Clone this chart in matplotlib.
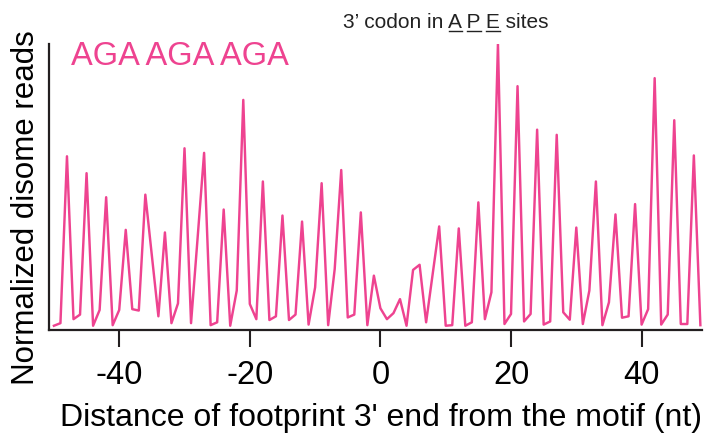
import numpy as np
import matplotlib
matplotlib.use('Agg')
import matplotlib.pyplot as plt
from matplotlib.lines import Line2D

plt.rcParams['font.family'] = ['Liberation Sans', 'DejaVu Sans']

# 数据：位置 (nt) 与归一化 disome reads
pos = np.arange(-50, 50)
reads = [
    0.015, 0.024, 0.607, 0.038, 0.054, 0.548, 0.015, 0.070, 0.464, 0.017,
    0.070, 0.350, 0.073, 0.068, 0.473, 0.260, 0.048, 0.341, 0.024, 0.093,
    0.635, 0.024, 0.320, 0.619, 0.017, 0.027, 0.421, 0.015, 0.138, 0.804,
    0.091, 0.038, 0.519, 0.035, 0.048, 0.400, 0.035, 0.054, 0.379, 0.019,
    0.149, 0.513, 0.017, 0.213, 0.559, 0.044, 0.054, 0.411, 0.017, 0.190,
    0.076, 0.038, 0.059, 0.108, 0.015, 0.210, 0.228, 0.027, 0.195, 0.362,
    0.015, 0.017, 0.355, 0.015, 0.027, 0.446, 0.038, 0.132, 1.000, 0.021,
    0.056, 0.852, 0.030, 0.056, 0.700, 0.019, 0.030, 0.682, 0.062, 0.036,
    0.358, 0.021, 0.138, 0.519, 0.017, 0.097, 0.404, 0.043, 0.048, 0.440,
    0.019, 0.073, 0.880, 0.019, 0.054, 0.733, 0.021, 0.021, 0.610, 0.017,
]
xticks = [-40, -20, 0, 20, 40]
motif_label = 'AGA AGA AGA'
title_text = '3\u2019 codon in A P E sites'
underlined = [12, 14, 16]  # A, P, E 的字符位置

pink = '#ee4390'
dark = '#231f20'

fig = plt.figure(figsize=(7.16, 4.35), dpi=100)
ax = fig.add_axes([0.068, 0.239, 0.912, 0.658])

ax.plot(pos, reads, color=pink, lw=1.75)

ax.set_xlim(-50.8, 49.2)
ax.set_ylim(0, 1.0)
ax.set_xticks(xticks)
ax.set_xticklabels([str(t) for t in xticks])
ax.set_yticks([])
ax.tick_params(axis='x', length=12, width=1.5, color=dark, labelsize=23.5, pad=9)
for s in ['top', 'right']:
    ax.spines[s].set_visible(False)
for s in ['left', 'bottom']:
    ax.spines[s].set_linewidth(1.6)
    ax.spines[s].set_color(dark)

ax.set_xlabel("Distance of footprint 3' end from the motif (nt)", fontsize=23)
ax.xaxis.set_label_coords(0.509, -0.25)
ax.set_ylabel('Normalized disome reads', fontsize=22.5)
ax.yaxis.set_label_coords(-0.012, 0.43)

fig.text(71 / 716, 1 - 41 / 435, motif_label, color=pink, fontsize=23.5,
         ha='left', va='top')

# 标题以及 A P E 下划线
fs_title = 15
tx, ty = 343 / 716, 1 - 28 / 435
fig.text(tx, ty, title_text, fontsize=fs_title, ha='left', va='baseline', color='#222222')
renderer = fig.canvas.get_renderer()


def text_width(s):
    t = fig.text(0, 0, s, fontsize=fs_title)
    w = t.get_window_extent(renderer).width
    t.remove()
    return w


x0_px = tx * 716
for i in underlined:
    a = x0_px + text_width(title_text[:i])
    b = x0_px + text_width(title_text[:i + 1])
    yl = ty * 435 - 4
    fig.add_artist(Line2D([a / 716, b / 716], [yl / 435, yl / 435],
                          transform=fig.transFigure, color='#222222', lw=1.0))

fig.savefig('out.png', dpi=100)
